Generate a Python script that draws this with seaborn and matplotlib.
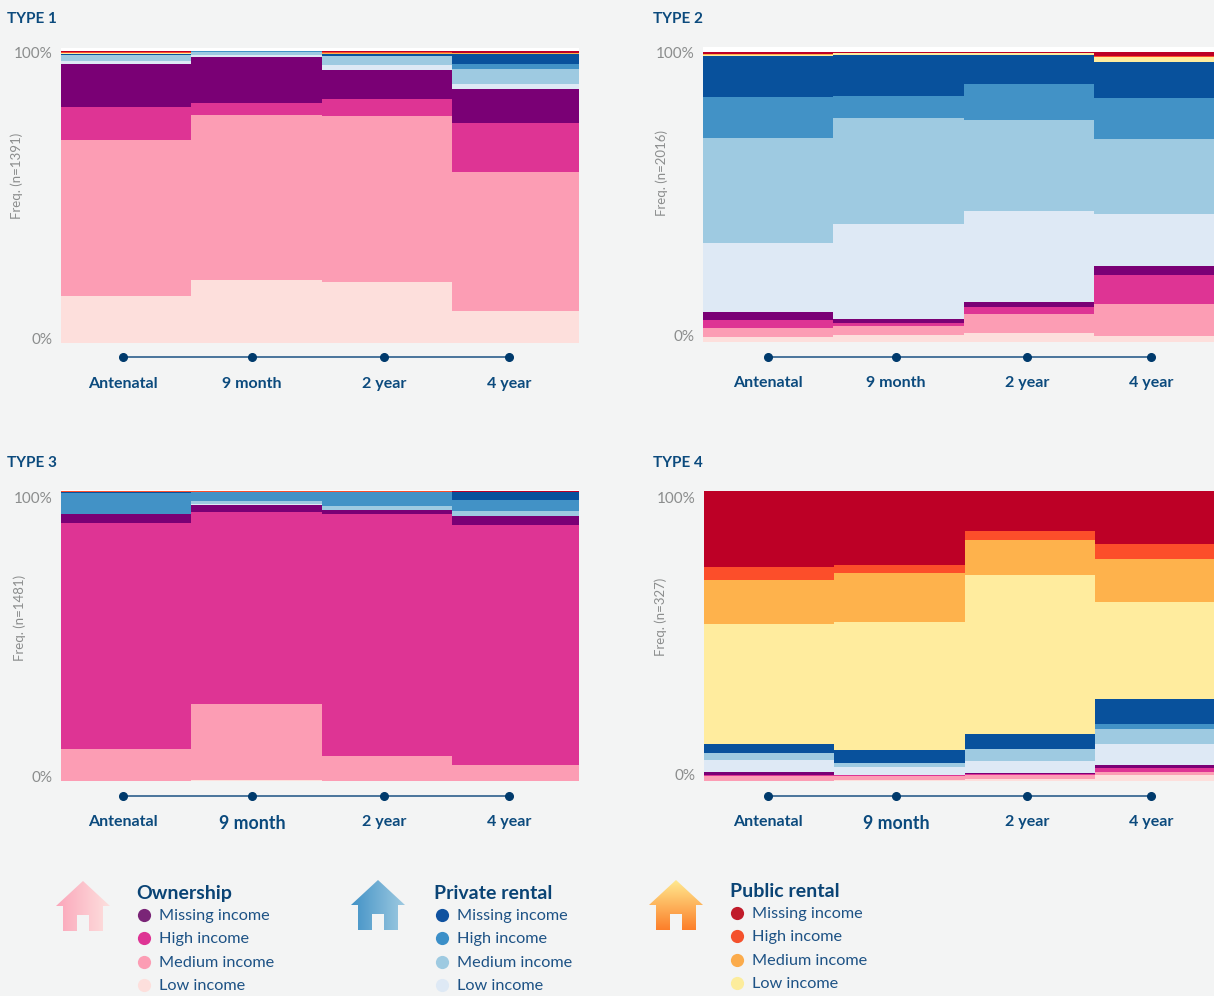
import numpy as np
import pandas as pd
import seaborn as sns
import matplotlib.pyplot as plt
from matplotlib.patches import Polygon, Rectangle

waves = ["Antenatal", "9 month", "2 year", "4 year"]
segments = ["own_low", "own_medium", "own_high", "own_missing",
            "priv_low", "priv_medium", "priv_high", "priv_missing",
            "pub_low", "pub_medium", "pub_high", "pub_missing"]

# share per wave, bottom to top, same order as segments
type1_antenatal = [16.1, 53.4, 11.3, 14.7, 1.0, 2.1, 0.2, 0.3, 0.2, 0.1, 0.1, 0.4]
type1_9month = [21.6, 56.5, 4.1, 15.8, 0.7, 1.0, 0.2, 0.1, 0, 0, 0, 0]
type1_2year = [20.9, 56.8, 5.8, 9.9, 1.7, 3.1, 0.2, 0.5, 0.2, 0.3, 0.3, 0.2]
type1_4year = [11.0, 47.6, 16.8, 11.6, 1.7, 5.1, 1.7, 3.4, 0.2, 0.1, 0.1, 0.7]

type2_antenatal = [1.7, 3.1, 2.8, 2.8, 23.8, 36.2, 14.1, 14.1, 0.3, 0.3, 0.1, 0.7]
type2_9month = [2.4, 3.1, 1.0, 1.4, 32.8, 36.6, 7.6, 14.1, 0.6, 0, 0, 0.3]
type2_2year = [3.1, 6.6, 2.4, 1.7, 31.4, 31.4, 12.4, 10.0, 0.6, 0, 0, 0.4]
type2_4year = [2.1, 11.0, 10.0, 3.1, 17.9, 25.9, 14.1, 12.4, 1.7, 0.2, 0.1, 1.4]

type3_antenatal = [0, 11.0, 77.9, 3.1, 0, 0, 7.2, 0.3, 0.1, 0.1, 0.2, 0]
type3_9month = [0.3, 26.2, 66.2, 2.4, 0.3, 1.0, 3.1, 0, 0.1, 0.1, 0.2, 0]
type3_2year = [0, 8.6, 83.4, 1.4, 0, 1.4, 4.8, 0, 0.1, 0.1, 0.2, 0]
type3_4year = [0, 5.5, 82.8, 3.1, 0, 1.7, 3.8, 2.9, 0, 0, 0, 0.2]

type4_antenatal = [0, 1.7, 0.3, 1.0, 4.1, 2.4, 0, 3.1, 41.4, 15.2, 4.5, 26.3]
type4_9month = [0.2, 1.6, 0.1, 0.2, 2.8, 1.4, 0, 4.5, 44.1, 16.9, 2.8, 25.4]
type4_2year = [0.7, 1.4, 0.3, 0.3, 4.1, 4.1, 0, 5.2, 54.8, 12.1, 3.1, 13.9]
type4_4year = [2.1, 1.0, 1.4, 1.0, 7.2, 5.2, 1.7, 8.6, 33.4, 14.8, 5.2, 18.4]

panel_names = ["TYPE 1", "TYPE 2", "TYPE 3", "TYPE 4"]
panel_n = [1391, 2016, 1481, 327]
panel_values = [
    [type1_antenatal, type1_9month, type1_2year, type1_4year],
    [type2_antenatal, type2_9month, type2_2year, type2_4year],
    [type3_antenatal, type3_9month, type3_2year, type3_4year],
    [type4_antenatal, type4_9month, type4_2year, type4_4year],
]

colors = dict(zip(segments, [
    "#fddfdc", "#fc9db4", "#de3494", "#7a0075",
    "#dee9f5", "#9ecae1", "#4292c6", "#08519c",
    "#ffec9e", "#feb24c", "#fc4e2a", "#bd0026",
]))

legend_groups = ["Ownership", "Private rental", "Public rental"]
legend_entries = ["Missing income", "High income", "Medium income", "Low income"]
legend_colors = [["#7a2577", "#de3494", "#fc9db4", "#fddfdc"],
                 ["#0f52a0", "#3b8fc8", "#9ecae1", "#dee9f5"],
                 ["#c01b2a", "#f4512c", "#fbab4b", "#fcec9c"]]

BG = "#f3f4f4"
NAVY = "#0b4a7d"
GREY = "#8b8d8d"
W, H = 1214, 996

rows = []
for name, columns in zip(panel_names, panel_values):
    for wave, column in zip(waves, columns):
        for seg, pct in zip(segments, column):
            rows.append({"panel": name, "wave": wave, "segment": seg, "pct": pct})
df = pd.DataFrame(rows)

sns.set_theme(style="white")
plt.rcParams["font.family"] = ["Lato", "DejaVu Sans"]

fig = plt.figure(figsize=(W / 100, H / 100), dpi=100, facecolor=BG)

# overlay in pixel coords for titles, legend and houses
over = fig.add_axes([0, 0, 1, 1], zorder=0)
over.set_axis_off()


def pixel_axes(x0, y0, x1, y1):
    return fig.add_axes([x0 / W, 1 - y1 / H, (x1 - x0) / W, (y1 - y0) / H], zorder=1)


# axes box, stack top pixel, x right limit, tick spots, timeline and label positions
layout = {
    "TYPE 1": dict(box=(61, 48, 579, 343), top=51, right=3.47, zero=338, hund=53, dots=[123, 252, 384, 509],
                   step=130.5, dot_y=357, lab_y=384, ylab=(23, 176), lab_size=[11.5] * 4, title=(7, 19)),
    "TYPE 2": dict(box=(703, 47, 1214, 342), top=52, right=3.42, zero=335, hund=52, dots=[768, 896, 1027, 1151],
                   step=130.3, dot_y=357, lab_y=383, ylab=(668, 173), lab_size=[11.5] * 4, title=(653, 19)),
    "TYPE 3": dict(box=(61, 490, 579, 781), top=491, right=3.47, zero=776, hund=498, dots=[123, 252, 384, 509],
                   step=130.5, dot_y=796, lab_y=822, ylab=(26, 618), lab_size=[11.5, 12.8, 11.5, 11.5], title=(7, 463)),
    "TYPE 4": dict(box=(704, 491, 1214, 781), top=491, right=3.41, zero=774, hund=498, dots=[768, 896, 1027, 1151],
                   step=130.3, dot_y=796, lab_y=822, ylab=(667, 617), lab_size=[11.5, 12.8, 11.5, 11.5], title=(653, 463)),
}

for name, n in zip(panel_names, panel_n):
    lay = layout[name]
    x0, y0, x1, y1 = lay["box"]
    ax = pixel_axes(x0, y0, x1, y1)
    ax.set_facecolor("white")
    px_per_pct = (y1 - lay["top"]) / 100

    bottom = np.zeros(len(waves))
    for seg in segments:
        sub = df[(df["panel"] == name) & (df["segment"] == seg)]
        sns.barplot(data=sub, x="wave", y="pct", order=waves, color=colors[seg], width=1,
                    saturation=1, errorbar=None, bottom=bottom, linewidth=0, ax=ax)
        bottom = bottom + sub["pct"].to_numpy()

    ax.set_xlim(-0.5, lay["right"])
    ax.set_ylim(0, (y1 - y0) / px_per_pct)
    for s in ax.spines.values():
        s.set_visible(False)

    tick_x = [(d - x0) / lay["step"] - 0.5 for d in lay["dots"]]
    ax.set_xticks(tick_x)
    ax.set_xticklabels(waves)
    ax.tick_params(axis="x", length=0, pad=(lay["lab_y"] - y1 - 7) * 0.72, labelcolor=NAVY)
    for lab, size in zip(ax.get_xticklabels(), lay["lab_size"]):
        lab.set_fontsize(size)
        lab.set_fontweight("bold")

    ax.set_yticks([(y1 - lay["zero"]) / px_per_pct, (y1 - lay["hund"]) / px_per_pct])
    ax.set_yticklabels(["0%", "100%"])
    ax.tick_params(axis="y", length=0, pad=6, labelsize=11, labelcolor=GREY)

    ax.set_xlabel("")
    ax.set_ylabel(f"Freq. (n={n})", fontsize=9.5, color=GREY)
    ax.yaxis.set_label_coords((lay["ylab"][0] - x0) / (x1 - x0), (y1 - lay["ylab"][1]) / (y1 - y0))

    # timeline under the panel
    line_y = [-(lay["dot_y"] - y1) / (y1 - y0)] * len(tick_x)
    ax.plot(tick_x, line_y, color="#3c6a94", lw=1.3, clip_on=False, transform=ax.get_xaxis_transform())
    ax.plot(tick_x, line_y, "o", ms=5.5, color="#003a6c", clip_on=False, transform=ax.get_xaxis_transform())

    over.text(lay["title"][0], lay["title"][1], name, color=NAVY, fontsize=11, fontweight="bold",
              va="center", ha="left")

# legend
legend_pos = [dict(head=(136, 893), dot_x=144, txt_x=159, ys=[916, 939, 963, 986]),
              dict(head=(434, 893), dot_x=442, txt_x=457, ys=[916, 939, 963, 986]),
              dict(head=(730, 891), dot_x=737, txt_x=752, ys=[914, 937, 961, 984])]

for group, pos, cols in zip(legend_groups, legend_pos, legend_colors):
    over.text(pos["head"][0], pos["head"][1], group, color="#0a4475", fontsize=14, fontweight="bold",
              va="center", ha="left")
    for entry, y, c in zip(legend_entries, pos["ys"], cols):
        over.plot([pos["dot_x"]], [y - 1], "o", ms=9.5, mew=0, color=c)
        over.text(pos["txt_x"], y, entry, color="#1d5285", fontsize=11.7, va="center", ha="left")


def house(ax, cx, top, colour_a, colour_b, vertical=False):
    pts = [(cx, top), (cx + 27, top + 25), (cx + 20, top + 25), (cx + 20, top + 50),
           (cx - 20, top + 50), (cx - 20, top + 25), (cx - 27, top + 25)]
    outline = Polygon(pts, closed=True, transform=ax.transData, facecolor="none", edgecolor="none")
    ax.add_patch(outline)
    a = np.array(plt.matplotlib.colors.to_rgb(colour_a))
    b = np.array(plt.matplotlib.colors.to_rgb(colour_b))
    ramp = np.linspace(0, 1, 64)[:, None]
    grad = a[None, :] * (1 - ramp) + b[None, :] * ramp
    img = grad[:, None, :] if vertical else grad[None, :, :]
    im = ax.imshow(img, extent=(cx - 27, cx + 27, top + 50, top), aspect="auto", zorder=2,
                   origin="upper")
    im.set_clip_path(outline)
    ax.add_patch(Rectangle((cx - 6, top + 34), 12, 16, facecolor=BG, edgecolor="none", zorder=3))


house(over, 83, 881, "#fba6ba", "#fde0de")
house(over, 378, 880, "#4292c6", "#9ecae1")
house(over, 676, 880, "#ffe98f", "#fc7f2a", vertical=True)

over.set_xlim(0, W)
over.set_ylim(H, 0)

fig.savefig("out.png", dpi=100, facecolor=BG)
